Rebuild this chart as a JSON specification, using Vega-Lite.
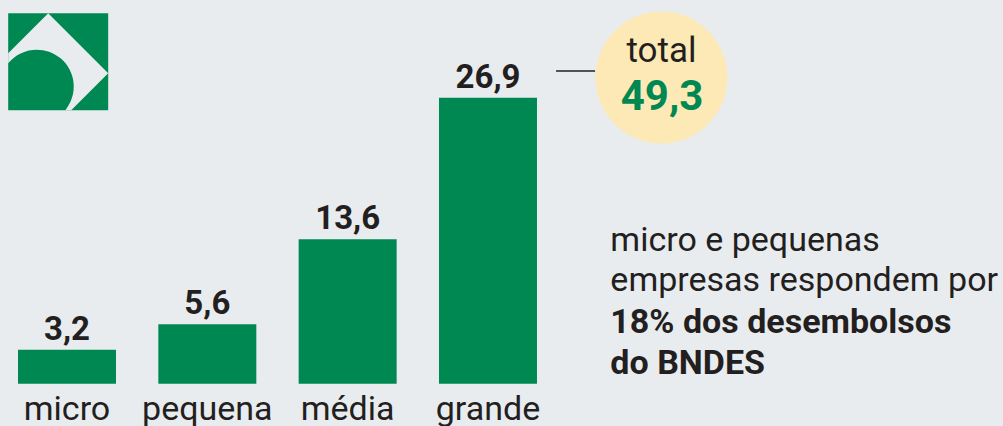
{
  "$schema": "https://vega.github.io/schema/vega-lite/v6.json",
  "width": 1003,
  "height": 426,
  "autosize": {"type": "none"},
  "padding": 0,
  "background": "#e9ecef",
  "config": {"view": {"stroke": null}, "text": {"font": "Roboto", "color": "#231f20"}, "scale": {"continuousPadding": 0}},
  "datasets": {
    "barras": [
      {"categoria": "micro", "ordem": 0, "valor": 3.2, "rotulo": "3,2"},
      {"categoria": "pequena", "ordem": 1, "valor": 5.6, "rotulo": "5,6"},
      {"categoria": "média", "ordem": 2, "valor": 13.6, "rotulo": "13,6"},
      {"categoria": "grande", "ordem": 3, "valor": 26.9, "rotulo": "26,9"}
    ],
    "unico": [{"item": "anotacao"}]
  },
  "layer": [
    {
      "data": {"name": "barras"},
      "mark": {"type": "bar", "orient": "vertical", "width": 98, "color": "#008852"},
      "encoding": {
        "x": {"field": "ordem", "type": "quantitative", "scale": {"domain": [-0.4774, 6.670], "nice": false, "zero": false, "padding": 0}, "axis": null},
        "y": {"field": "valor", "type": "quantitative", "scale": {"domain": [-3.979, 36.096], "nice": false, "zero": false, "padding": 0}, "axis": null},
        "y2": {"datum": 0}
      }
    },
    {
      "data": {"name": "barras"},
      "mark": {"type": "text", "fontSize": 33, "fontWeight": "bold", "baseline": "alphabetic", "align": "center", "dy": -10},
      "encoding": {
        "x": {"field": "ordem", "type": "quantitative"},
        "y": {"field": "valor", "type": "quantitative"},
        "text": {"field": "rotulo"}
      }
    },
    {
      "data": {"name": "barras"},
      "mark": {"type": "text", "fontSize": 34, "baseline": "alphabetic", "align": "center"},
      "encoding": {
        "x": {"field": "ordem", "type": "quantitative"},
        "y": {"datum": -3.415, "type": "quantitative"},
        "text": {"field": "categoria"}
      }
    },
    {
      "data": {"name": "unico"},
      "mark": {"type": "point", "filled": true, "opacity": 1, "shape": "M-1,-0.97L1,-0.97L1,0.97L-1,0.97Z", "size": 10000, "color": "#008852"},
      "encoding": {"x": {"datum": -0.0627, "type": "quantitative"}, "y": {"datum": 30.29, "type": "quantitative"}}
    },
    {
      "data": {"name": "unico"},
      "mark": {"type": "point", "filled": true, "opacity": 1, "shape": "M-0.2,-0.97L1,0.23L0.26,0.97L0.144,0.97A0.74,0.74,0,1,0,-1,0.03L-1,-0.17Z", "size": 10000, "color": "#e9ecef"},
      "encoding": {"x": {"datum": -0.0627, "type": "quantitative"}, "y": {"datum": 30.29, "type": "quantitative"}}
    },
    {
      "data": {"name": "unico"},
      "mark": {"type": "rule", "color": "#231f20", "strokeWidth": 1.5},
      "encoding": {"x": {"datum": 3.485, "type": "quantitative"}, "x2": {"datum": 3.763}, "y": {"datum": 29.42, "type": "quantitative"}}
    },
    {
      "data": {"name": "unico"},
      "mark": {"type": "point", "filled": true, "opacity": 1, "shape": "circle", "size": 17424, "color": "#fde9b5"},
      "encoding": {"x": {"datum": 4.236, "type": "quantitative"}, "y": {"datum": 28.805, "type": "quantitative"}}
    },
    {
      "data": {"name": "unico"},
      "mark": {"type": "text", "fontSize": 35, "baseline": "alphabetic", "align": "center"},
      "encoding": {"x": {"datum": 4.236, "type": "quantitative"}, "y": {"datum": 30.24, "type": "quantitative"}, "text": {"value": "total"}}
    },
    {
      "data": {"name": "unico"},
      "mark": {"type": "text", "fontSize": 42, "fontWeight": "bold", "baseline": "alphabetic", "align": "center", "color": "#008852"},
      "encoding": {"x": {"datum": 4.24, "type": "quantitative"}, "y": {"datum": 25.75, "type": "quantitative"}, "text": {"value": "49,3"}}
    },
    {
      "data": {"name": "unico"},
      "mark": {"type": "text", "fontSize": 34, "baseline": "alphabetic", "align": "left", "lineBreak": "\n", "lineHeight": 40},
      "encoding": {"x": {"datum": 3.872, "type": "quantitative"}, "y": {"datum": 12.46, "type": "quantitative"}, "text": {"value": "micro e pequenas\nempresas respondem por"}}
    },
    {
      "data": {"name": "unico"},
      "mark": {"type": "text", "fontSize": 34, "fontWeight": "bold", "baseline": "alphabetic", "align": "left", "lineBreak": "\n", "lineHeight": 40.5},
      "encoding": {"x": {"datum": 3.872, "type": "quantitative"}, "y": {"datum": 4.75, "type": "quantitative"}, "text": {"value": "18% dos desembolsos\ndo BNDES"}}
    }
  ]
}
